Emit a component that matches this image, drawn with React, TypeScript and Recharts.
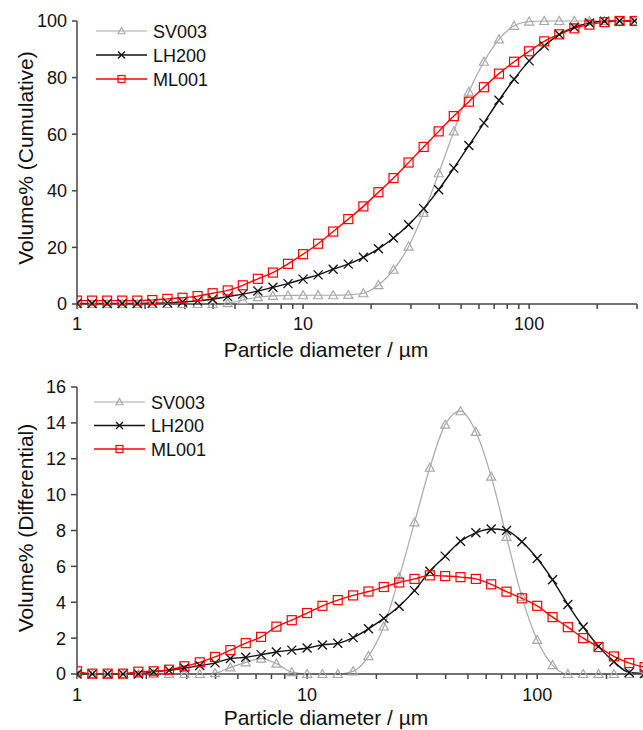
import { Legend, Line, LineChart, XAxis, YAxis } from "recharts";

// particle size bins (µm)
const sizes = [
  1, 1.166, 1.359, 1.585, 1.848, 2.154, 2.512, 2.929, 3.415, 3.981, 4.642, 5.412, 6.31,
  7.356, 8.577, 10, 11.66, 13.59, 15.85, 18.48, 21.54, 25.12, 29.29, 34.15, 39.81, 46.42,
  54.12, 63.1, 73.56, 85.77, 100, 116.6, 135.9, 158.5, 184.8, 215.4, 251.2, 292.9
];

const sv003Cum = [
  0, 0, 0, 0, 0, 0, 0, 0, 0, 0, 0.3, 1.4, 2.4, 2.9, 3.0, 3.1, 3.1, 3.1, 3.2, 3.8, 6.7, 12.1,
  20.3, 32.2, 46.2, 61.0, 75.0, 85.6, 93.5, 98.3, 99.8, 100, 100, 100, 100, 100, 100, 100
];
const lh200Cum = [
  0.2, 0.2, 0.2, 0.2, 0.2, 0.3, 0.4, 0.7, 1.1, 1.7, 2.6, 3.5, 4.6, 5.9, 7.2, 8.8, 10.3, 12.3,
  14.1, 16.5, 19.5, 23.3, 28.0, 33.7, 40.4, 48.0, 56.0, 64.0, 72.0, 79.4, 85.9, 91.2, 95.2,
  97.8, 99.3, 99.9, 100, 100
];
const ml001Cum = [
  1.2, 1.2, 1.2, 1.2, 1.2, 1.4, 1.8, 2.2, 2.8, 3.8, 4.8, 6.6, 8.9, 11.1, 14.2, 17.6, 21.3,
  25.6, 30.0, 34.5, 39.5, 44.5, 50.0, 55.5, 61.0, 66.4, 71.5, 76.6, 81.4, 85.6, 89.3, 92.8,
  95.3, 97.4, 98.7, 99.6, 100, 100
];

const sv003Diff = [
  0, 0, 0, 0, 0, 0, 0, 0, 0, 0.05, 0.37, 0.65, 0.86, 0.58, 0.1, 0, 0, 0, 0.15, 1.0, 2.65, 5.4,
  8.45, 11.5, 13.9, 14.65, 13.5, 11.0, 7.65, 4.3, 1.9, 0.5, 0, 0, 0, 0, 0, 0
];
const lh200Diff = [
  0, 0, 0, 0, 0, 0.12, 0.2, 0.33, 0.47, 0.62, 0.86, 0.93, 1.08, 1.23, 1.33, 1.45, 1.62, 1.71,
  2.03, 2.52, 3.1, 3.78, 4.65, 5.73, 6.57, 7.4, 7.87, 8.08, 8.0, 7.37, 6.44, 5.25, 3.87, 2.62,
  1.54, 0.68, 0.08, 0.02
];
const ml001Diff = [
  0.15, 0.02, 0.02, 0.02, 0.13, 0.15, 0.24, 0.43, 0.65, 0.95, 1.33, 1.72, 2.07, 2.64, 3.0, 3.4,
  3.8, 4.12, 4.38, 4.6, 4.85, 5.1, 5.3, 5.5, 5.46, 5.4, 5.3, 5.0, 4.59, 4.22, 3.8, 3.17, 2.61,
  2.0, 1.5, 0.98, 0.61, 0.38
];

const xTicks = [1, 2, 3, 4, 5, 6, 7, 8, 9, 10, 20, 30, 40, 50, 60, 70, 80, 90, 100, 200, 300];
const xLabels = [1, 10, 100];
const cumTicks = [0, 20, 40, 60, 80, 100];
const diffTicks = [0, 2, 4, 6, 8, 10, 12, 14, 16];

const FONT = '"Liberation Sans", Arial, Helvetica, sans-serif';
const AXIS = "#444";
const TEXT = "#111";

const series = [
  { key: "sv003", name: "SV003", color: "#a8a8a8", marker: "tri", width: 1.2 },
  { key: "lh200", name: "LH200", color: "#111111", marker: "cross", width: 1.4 },
  { key: "ml001", name: "ML001", color: "#ff0000", marker: "square", width: 1.4 }
];

const cumRows = sizes.map((d, i) => ({
  d,
  sv003: sv003Cum[i],
  lh200: lh200Cum[i],
  ml001: ml001Cum[i]
}));
const diffRows = sizes.map((d, i) => ({
  d,
  sv003: sv003Diff[i],
  lh200: lh200Diff[i],
  ml001: ml001Diff[i]
}));

function drawMarker(kind: string, color: string, cx: number, cy: number, r: number, key?: any) {
  if (kind === "tri") {
    return (
      <path
        key={key}
        d={`M${cx},${cy - r} L${cx + r},${cy + r * 0.78} L${cx - r},${cy + r * 0.78} Z`}
        fill="none"
        stroke={color}
        strokeWidth={1.2}
      />
    );
  }
  if (kind === "cross") {
    return (
      <path
        key={key}
        d={`M${cx - r},${cy - r} L${cx + r},${cy + r} M${cx - r},${cy + r} L${cx + r},${cy - r}`}
        fill="none"
        stroke={color}
        strokeWidth={1.3}
      />
    );
  }
  return (
    <rect
      key={key}
      x={cx - r}
      y={cy - r}
      width={r * 2}
      height={r * 2}
      fill="none"
      stroke={color}
      strokeWidth={1.2}
    />
  );
}

const dotFor = (kind: string, color: string) => (p: any) => {
  if (p.cx == null || p.cy == null) return <g key={p.index} />;
  return drawMarker(kind, color, p.cx, p.cy, 4.5, p.index);
};

function XTick({ x, y, payload }: any) {
  if (!xLabels.includes(payload.value)) return <g />;
  return (
    <text x={x} y={y} dy="0.71em" textAnchor="middle" fontSize={18} fill={TEXT}>
      {payload.value}
    </text>
  );
}

function legendContent(rowY: number[], x0: number) {
  return () => (
    <svg width={140} height={rowY[2] + 12} style={{ display: "block", overflow: "visible" }}>
      {series.map((s, i) => (
        <g key={s.key}>
          <line x1={x0} x2={x0 + 51} y1={rowY[i]} y2={rowY[i]} stroke={s.color} strokeWidth={s.width} />
          {drawMarker(s.marker, s.color, x0 + 25.5, rowY[i], 3.5)}
          <text x={x0 + 57} y={rowY[i] + 6.5} fontSize={18} fill={TEXT} fontFamily={FONT}>
            {s.name}
          </text>
        </g>
      ))}
    </svg>
  );
}

function title(text: string, x: number, y: number, rotate = false) {
  return () => (
    <text
      x={x}
      y={y}
      fontSize={21}
      fill={TEXT}
      textAnchor="middle"
      dominantBaseline={rotate ? "central" : "auto"}
      transform={rotate ? `rotate(-90 ${x} ${y})` : undefined}
    >
      {text}
    </text>
  );
}

function Panel({ rows, yTicks, yMax, yTitle, width, height, marginTop, marginRight, tickGap, yTitleY, xTitleY, legendRows, legendX, yTickSize }: any) {
  return (
    <LineChart
      width={width}
      height={height}
      data={rows}
      margin={{ top: marginTop, right: marginRight, left: 0, bottom: 0 }}
    >
      <XAxis
        dataKey="d"
        type="number"
        scale="log"
        domain={[1, 300]}
        ticks={xTicks}
        interval={0}
        allowDataOverflow
        height={56}
        tick={<XTick />}
        tickSize={5}
        tickMargin={tickGap}
        stroke={AXIS}
        strokeWidth={1.5}
        label={{ content: title("Particle diameter / µm", 326, xTitleY) }}
      />
      <YAxis
        type="number"
        domain={[0, yMax]}
        ticks={yTicks}
        interval={0}
        width={77}
        tickSize={yTickSize}
        tickMargin={5}
        tick={{ fontSize: 18, fill: TEXT }}
        stroke={AXIS}
        strokeWidth={1.5}
        label={{ content: title(yTitle, 25, yTitleY, true) }}
      />
      <Legend
        layout="vertical"
        align="center"
        verticalAlign="middle"
        wrapperStyle={{ left: 0, top: 0, width: 160, height: 100 }}
        content={legendContent(legendRows, legendX)}
      />
      {series.map((s) => (
        <Line
          key={s.key}
          dataKey={s.key}
          name={s.name}
          type="monotone"
          stroke={s.color}
          strokeWidth={s.width}
          dot={dotFor(s.marker, s.color)}
          activeDot={false}
          isAnimationActive={false}
        />
      ))}
    </LineChart>
  );
}

export default function App() {
  return (
    <div
      style={{
        position: "absolute",
        left: 0,
        top: 0,
        width: 643,
        height: 730,
        overflow: "hidden",
        background: "#fff",
        fontFamily: FONT
      }}
    >
      <div style={{ position: "absolute", left: 0, top: 0 }}>
        <Panel
          rows={cumRows}
          yTicks={cumTicks}
          yMax={100}
          yTitle="Volume% (Cumulative)"
          width={643}
          height={360}
          marginTop={21}
          marginRight={6}
          tickGap={8}
          yTitleY={158}
          xTitleY={356.5}
          legendRows={[31, 55, 79]}
          legendX={96}
          yTickSize={5}
        />
      </div>
      <div style={{ position: "absolute", left: 0, top: 360 }}>
        <Panel
          rows={diffRows}
          yTicks={diffTicks}
          yMax={16}
          yTitle="Volume% (Differential)"
          width={650}
          height={370}
          marginTop={27}
          marginRight={3}
          tickGap={9}
          yTitleY={168}
          xTitleY={364.5}
          legendRows={[42, 65.5, 89]}
          legendX={94}
          yTickSize={6}
        />
      </div>
    </div>
  );
}
